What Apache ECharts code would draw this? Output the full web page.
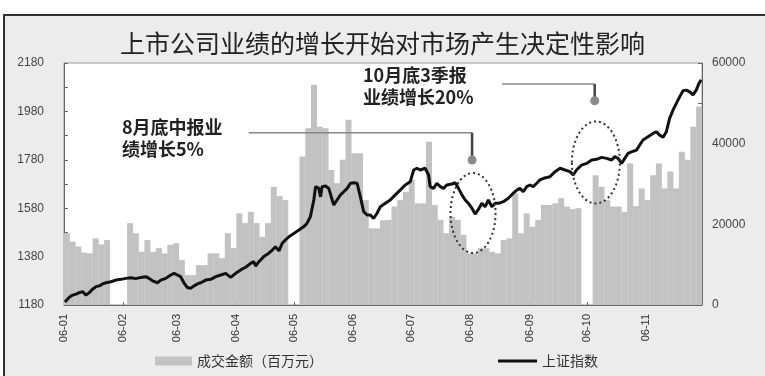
<!DOCTYPE html>
<html>
<head>
<meta charset="utf-8">
<script src="https://cdn.jsdelivr.net/npm/echarts@6/dist/echarts.min.js"></script>
<style>
html, body { margin: 0; padding: 0; background: #fff; }
#wrap { position: relative; width: 765px; height: 376px; overflow: hidden; }
#frame { position: absolute; left: 3px; top: 14px; width: 800px; height: 400px; border: 2px solid #333; background: #ececec; }
#chart { position: absolute; left: 0; top: 0; width: 765px; height: 376px; }
</style>
</head>
<body>
<div id="wrap"><div id="frame"></div><div id="chart"></div></div>
<script>
// x axis is day of year 2006, month labels sit on the first day of each month
const monthStarts = [0, 31, 59, 90, 120, 151, 181, 212, 243, 273, 304];
const monthLabels = ['06-01', '06-02', '06-03', '06-04', '06-05', '06-06', '06-07', '06-08', '06-09', '06-10', '06-11'];

// 上证指数
const indexDays = [
  0.5, 1.0, 2.8, 4.5, 6.3, 8.0, 9.7, 11.5, 13.2, 14.9, 16.7, 18.4, 20.1, 21.9, 24.5, 27.1, 29.7, 32.3, 34.9, 37.5,
  40.1, 42.7, 44.4, 46.2, 48.8, 50.5, 53.1, 55.7, 57.5, 59.2, 60.9, 62.7, 64.4, 66.1, 67.9, 69.6, 71.4, 74.0, 76.6, 79.2,
  81.8, 84.4, 87.0, 89.6, 92.2, 94.8, 97.4, 99.1, 100.0, 101.7, 104.3, 106.9, 108.7, 110.4, 112.2, 113.9, 115.6, 117.4, 120.0, 122.6,
  125.2, 126.9, 128.6, 130.4, 131.3, 133.0, 133.9, 134.7, 136.5, 138.2, 140.0, 140.8, 142.5, 144.3, 146.0, 147.8, 149.5, 151.2, 153.0, 154.7,
  156.4, 158.2, 159.9, 161.6, 163.4, 165.1, 167.7, 170.3, 172.9, 175.5, 178.1, 180.7, 182.5, 184.2, 185.9, 188.5, 190.3, 191.1, 192.9, 194.6,
  196.4, 198.1, 199.8, 202.4, 204.2, 205.9, 207.7, 209.4, 211.1, 212.9, 214.6, 216.3, 218.1, 219.8, 221.5, 223.3, 225.0, 226.7, 229.3, 231.9,
  234.5, 236.3, 238.0, 239.7, 241.5, 243.2, 244.9, 246.7, 248.4, 251.0, 253.6, 256.3, 258.9, 261.5, 264.1, 265.8, 267.5, 270.1, 272.8, 275.4,
  278.0, 280.6, 283.2, 285.8, 287.5, 289.2, 291.0, 292.7, 294.4, 296.2, 298.8, 300.5, 302.2, 304.8, 307.4, 309.2, 310.9, 312.7, 314.4, 316.1,
  317.9, 319.6, 321.4, 323.1, 324.8, 326.6, 328.3, 330.0, 331.4, 332.6
];
const indexValues = [
  1192, 1198, 1212, 1221, 1225, 1231, 1235, 1221, 1231, 1245, 1256, 1259, 1267, 1272, 1276, 1283, 1286, 1290, 1293, 1289,
  1294, 1297, 1290, 1280, 1272, 1283, 1290, 1304, 1311, 1304, 1297, 1270, 1252, 1249, 1259, 1267, 1272, 1283, 1286, 1297,
  1304, 1311, 1294, 1311, 1325, 1336, 1352, 1359, 1341, 1359, 1380, 1394, 1407, 1421, 1404, 1435, 1449, 1462, 1476, 1490,
  1504, 1518, 1545, 1614, 1669, 1662, 1627, 1669, 1672, 1662, 1614, 1593, 1614, 1635, 1648, 1662, 1683, 1685, 1683, 1627,
  1566, 1552, 1552, 1538, 1559, 1586, 1600, 1614, 1635, 1655, 1676, 1689, 1738, 1745, 1738, 1745, 1717, 1669, 1662, 1683,
  1669, 1662, 1676, 1680, 1685, 1662, 1635, 1614, 1600, 1580, 1556, 1575, 1600, 1586, 1614, 1586, 1600, 1600, 1607, 1621,
  1642, 1655, 1662, 1648, 1669, 1676, 1669, 1683, 1697, 1705, 1710, 1731, 1745, 1738, 1731, 1717, 1738, 1758, 1765, 1779,
  1782, 1790, 1786, 1779, 1793, 1786, 1765, 1786, 1807, 1813, 1820, 1841, 1862, 1875, 1889, 1896, 1882, 1873, 1896, 1951,
  1986, 2013, 2041, 2065, 2068, 2061, 2048, 2068, 2096, 2110
];

// 成交金额（百万元）, null = market closed
const volumeDays = [
  1.5, 4.5, 7.5, 10.5, 13.5, 16.5, 19.5, 22.5, 25.5, 28.5,
  31.5, 34.5, 37.5, 40.5, 43.5, 46.5, 49.5, 52.5, 55.5, 58.5,
  61.5, 64.5, 67.5, 70.5, 73.5, 76.5, 79.5, 82.5, 85.5, 88.5,
  91.5, 94.5, 97.5, 100.5, 103.5, 106.5, 109.5, 112.5, 115.5, 118.5,
  121.5, 124.5, 127.5, 130.5, 133.5, 136.5, 139.5, 142.5, 145.5, 148.5,
  151.5, 154.5, 157.5, 160.5, 163.5, 166.5, 169.5, 172.5, 175.5, 178.5,
  181.5, 184.5, 187.5, 190.5, 193.5, 196.5, 199.5, 202.5, 205.5, 208.5,
  211.5, 214.5, 217.5, 220.5, 223.5, 226.5, 229.5, 232.5, 235.5, 238.5,
  241.5, 244.5, 247.5, 250.5, 253.5, 256.5, 259.5, 262.5, 265.5, 268.5,
  271.5, 274.5, 277.5, 280.5, 283.5, 286.5, 289.5, 292.5, 295.5, 298.5,
  301.5, 304.5, 307.5, 310.5, 313.5, 316.5, 319.5, 322.5, 325.5, 328.5,
  331.5
];
const volumeValues = [
  17800, 15700, 14500, 13000, 12800, 16500, 15000, 16100, null, null,
  null, 20300, 17800, 13200, 16100, 13200, 14100, 12800, 14900, 15300,
  11200, 7400, 7400, 9900, 9900, 12800, 12800, 11600, 17800, 14100,
  22700, 20300, 23100, 20300, 16900, 20300, 29300, 27000, 26000, null,
  null, 36800, 43800, 54600, 44200, 43800, 33500, 30200, 36000, 45900,
  37600, 37600, 26000, 19000, 19000, 21000, 21100, 24400, 26000, 28000,
  31000, 25200, 25200, 40500, 24800, 21100, 17800, 21900, 21100, 17400,
  12800, 12800, 14100, 14100, 13200, 12800, 16100, 16500, 27700, 17800,
  22700, 19400, 21100, 24800, 24800, 25200, 26500, 24400, 23800, 24000,
  null, null, 32200, 29300, 26000, 24400, 24400, 23100, 35100, 24500,
  28900, 26000, 32200, 35100, 28900, 33100, 28900, 38000, 36000, 44200,
  49200
];

const leftLabels = [1180, 1380, 1580, 1780, 1980, 2180];
const leftTicks = [1180, 1280, 1380, 1480, 1580, 1680, 1780, 1880, 1980, 2080, 2180];
const rightLabels = [0, 20000, 40000, 60000];
const rightTicks = [0, 10000, 20000, 30000, 40000, 50000, 60000];

// callouts: [day, index value] anchors
const noteTexts = ['8月底中报业\n绩增长5%', '10月底3季报\n业绩增长20%'];
const noteTextPos = [[122, 116], [363, 64]];
const noteLineStart = [96.4, 228.6];
const noteElbow = [[213, 1892], [277, 2093]];
const noteDot = [[213, 1779], [277, 2024]];
const noteRing = [[213.5, 1560], [277.6, 1769]];
const noteRingSize = [[22.5, 40], [24, 41]];

const cjk = 'Noto Sans CJK SC';

const option = {
    animation: false,
    textStyle: { fontFamily: 'Liberation Sans, ' + cjk + ', sans-serif' },
    title: {
        text: '上市公司业绩的增长开始对市场产生决定性影响',
        left: 'center',
        top: 26,
        textStyle: { fontSize: 25, fontWeight: 'normal', color: '#222', fontFamily: cjk }
    },
    legend: [
        {
            data: ['成交金额（百万元）'],
            left: 150, top: 349,
            icon: 'rect', itemWidth: 37, itemHeight: 9, itemGap: 6,
            textStyle: { fontSize: 14, color: '#333', fontFamily: cjk }
        },
        {
            data: ['上证指数'],
            left: 493, top: 349,
            icon: 'rect', itemWidth: 39, itemHeight: 3,
            textStyle: { fontSize: 14, color: '#333', fontFamily: cjk }
        }
    ],
    grid: {
        left: 64, right: 63, top: 63, bottom: 71,
        show: true, backgroundColor: '#fff', borderColor: '#999', borderWidth: 1
    },
    xAxis: {
        type: 'value',
        min: 0, max: 333,
        axisLine: { lineStyle: { color: '#666' } },
        axisTick: { customValues: monthStarts, inside: true, length: 3, lineStyle: { color: '#666' } },
        axisLabel: {
            customValues: monthStarts,
            rotate: 90, fontSize: 11, color: '#333', margin: 9,
            formatter: v => monthLabels[monthStarts.indexOf(v)]
        },
        splitLine: { show: false }
    },
    yAxis: [
        {
            type: 'value',
            min: 1180, max: 2180,
            axisLine: { show: true, lineStyle: { color: '#666' } },
            axisTick: { show: true, customValues: leftTicks, inside: true, length: 4, lineStyle: { color: '#666' } },
            axisLabel: { customValues: leftLabels, fontSize: 12, color: '#444', margin: 20, formatter: v => String(v) },
            splitLine: { show: false }
        },
        {
            type: 'value',
            min: 0, max: 60000,
            position: 'right',
            axisLine: { show: true, lineStyle: { color: '#666' } },
            axisTick: { show: true, customValues: rightTicks, inside: true, length: 4, lineStyle: { color: '#666' } },
            axisLabel: { customValues: rightLabels, fontSize: 12, color: '#444', margin: 10, formatter: v => String(v) },
            splitLine: { show: false }
        }
    ],
    series: [
        {
            name: '成交金额（百万元）',
            type: 'bar',
            yAxisIndex: 1,
            barWidth: 6,
            itemStyle: { color: '#c2c2c2' },
            data: volumeDays.map((d, i) => [d, volumeValues[i]]).filter(p => p[1] != null)
        },
        {
            name: '上证指数',
            type: 'line',
            yAxisIndex: 0,
            symbol: 'none',
            lineStyle: { color: '#111', width: 3 },
            itemStyle: { color: '#111' },
            z: 5,
            data: indexDays.map((d, i) => [d, indexValues[i]])
        }
    ]
};

const chart = echarts.init(document.getElementById('chart'));
chart.setOption(option);

const px = pt => chart.convertToPixel({ xAxisIndex: 0, yAxisIndex: 0 }, pt);
const elements = [];
noteTexts.forEach((txt, i) => {
    const start = px([noteLineStart[i], noteElbow[i][1]]);
    const elbow = px(noteElbow[i]);
    const dot = px(noteDot[i]);
    const ring = px(noteRing[i]);
    elements.push({
        type: 'text', left: noteTextPos[i][0], top: noteTextPos[i][1], z: 20,
        style: { text: txt, fontSize: 18, fontWeight: 'bold', fill: '#222', lineHeight: 22, fontFamily: cjk }
    });
    elements.push({
        type: 'line', z: 20,
        shape: { x1: start[0], y1: start[1], x2: elbow[0], y2: elbow[1] },
        style: { stroke: '#888', lineWidth: 1.5 }
    });
    elements.push({
        type: 'line', z: 20,
        shape: { x1: elbow[0], y1: elbow[1], x2: dot[0], y2: dot[1] },
        style: { stroke: '#444', lineWidth: 2.5 }
    });
    elements.push({
        type: 'circle', z: 21,
        shape: { cx: dot[0], cy: dot[1], r: 4.5 },
        style: { fill: '#8a8a8a' }
    });
    elements.push({
        type: 'ellipse', z: 21,
        shape: { cx: ring[0], cy: ring[1], rx: noteRingSize[i][0], ry: noteRingSize[i][1] },
        style: { fill: 'none', stroke: '#333', lineWidth: 2, lineDash: [2, 3] }
    });
});
chart.setOption({ graphic: elements });
</script>
</body>
</html>
